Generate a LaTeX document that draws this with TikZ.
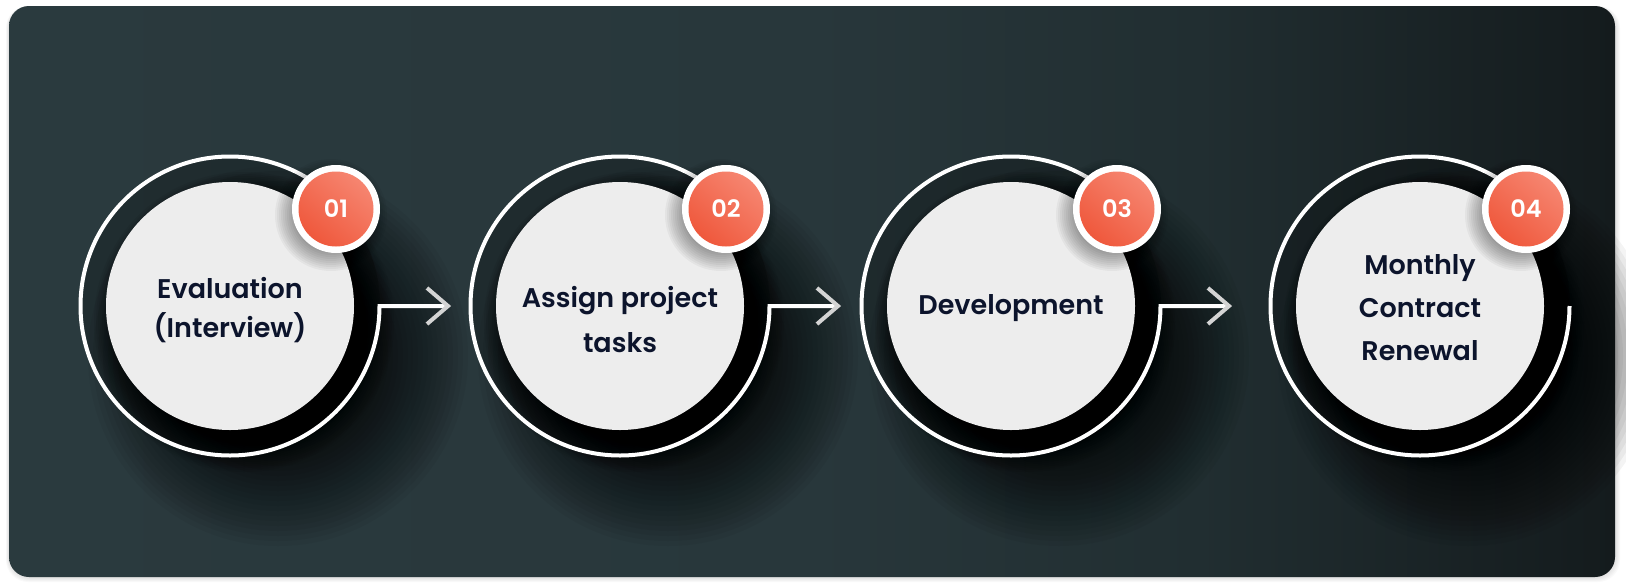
\documentclass[tikz,border=0pt]{standalone}
\usepackage{fontspec}
\newfontfamily\lblfont{Poppins SemiBold}
\newfontfamily\numfont{Poppins SemiBold}
\usetikzlibrary{calc}
\definecolor{bgA}{RGB}{42,58,62}
\definecolor{bgB}{RGB}{40,55,59}
\definecolor{bgC}{RGB}{33,46,49}
\definecolor{bgD}{RGB}{20,27,29}
\definecolor{discgray}{RGB}{237,237,237}
\definecolor{ink}{RGB}{12,20,44}
\definecolor{redA}{RGB}{246,133,112}
\definecolor{redB}{RGB}{239,88,60}
\definecolor{headgray}{RGB}{212,212,212}
\pgfdeclarehorizontalshading{bgshade}{100bp}{color(0bp)=(bgA); color(25bp)=(bgA); color(50bp)=(bgB); color(62bp)=(bgC); color(75bp)=(bgD); color(100bp)=(bgD)}
\begin{document}
\begin{tikzpicture}[x=1pt,y=-1pt,
  ring/.style={draw=white, line width=4pt},
  chev/.style={draw=headgray, line width=4pt, line join=miter},
  disc/.style={circle, fill=discgray, minimum size=248pt, inner sep=0pt},
  lbl/.style={text=ink, align=center, inner sep=0pt},
  badge/.style={circle, fill=white, minimum size=88pt, inner sep=0pt},
  num/.style={text=white, inner sep=0pt, font=\numfont\fontsize{24}{26}\selectfont}]
\useasboundingbox (0,0) rectangle (1626,582);
\fill[white] (0,0) rectangle (1626,582);
% soft shadow of the panel
\foreach \k in {1,...,5}
  \fill[black, opacity=0.025, rounded corners=22pt] (9-\k*0.6,6) rectangle (1615+\k,577+\k);
\shade[shading=bgshade, rounded corners=20pt] (9,6) rectangle (1615,577);
% circles
\foreach \i/\cx in {1/230, 2/620, 3/1011, 4/1420}{
  % wide soft shadow
  \foreach \k in {0,...,28}
    \fill[black, opacity=0.045] (\cx+48,356) circle ({190-\k*5});
  % band darkening
  \fill[black, opacity=0.22] (\cx,306) circle (150);
  % tight shadow
  \foreach \k in {0,...,25}
    \fill[black, opacity=0.06] (\cx+14,322) circle ({150-\k*2});
  \coordinate (e\i) at (\cx+149.5,306);
  \node[disc] (s\i) at (\cx,306) {};
}
% rings and arrows
\foreach \i/\cx in {1/230, 2/620, 3/1011}{
  \coordinate (t\i) at (\cx+218,306);
  \draw[ring] (t\i) -- (e\i) arc[start angle=0, end angle=318, radius=149.5];
  \draw[chev] ([shift={(-21,-18)}]t\i) -- (t\i) -- ([shift={(-21,18)}]t\i);
}
\draw[ring] (e4) arc[start angle=0, end angle=318, radius=149.5];
% badges
\foreach \i/\cx in {1/230, 2/620, 3/1011, 4/1420}{
  \foreach \k in {0,...,9}
    \fill[black, opacity=0.04] (\cx+101,215) circle ({56-\k*2});
  \node[badge] (b\i) at (\cx+106,209) {};
  \shade[top color=redA, bottom color=redB, shading angle=-40] (b\i.center) circle (37.5);
  \node[num] (n\i) at (b\i.center) {0\i};
}
% labels
\node[lbl, font=\lblfont\fontsize{27}{39}\selectfont] (l1) at (230,310) {Evaluation\\(Interview)};
\node[lbl, font=\lblfont\fontsize{27}{45}\selectfont] (l2) at (620,320) {Assign project\\tasks};
\node[lbl, font=\lblfont\fontsize{27}{40}\selectfont] (l3) at (1011,308) {Development};
\node[lbl, font=\lblfont\fontsize{27}{43}\selectfont] (l4) at (1420,308) {Monthly\\Contract\\Renewal};
\end{tikzpicture}
\end{document}
